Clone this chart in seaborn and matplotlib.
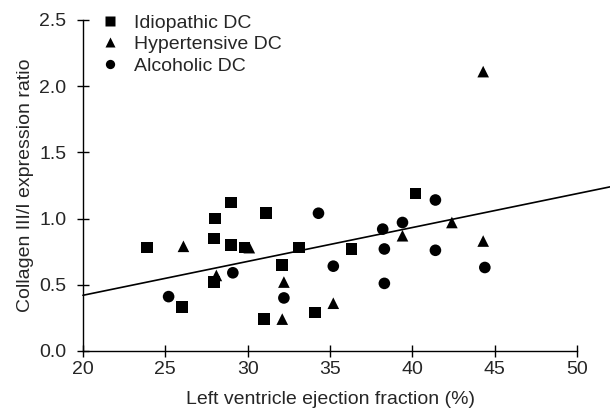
import matplotlib
matplotlib.use("Agg")
import matplotlib.pyplot as plt
import numpy as np
import pandas as pd
import seaborn as sns

# Values
idio_ef = [23.9, 26.0, 28.0, 27.95, 27.95, 29.0, 29.0, 29.8, 31.1, 31.0, 32.1, 33.1, 34.1, 36.3, 40.2]
idio_ratio = [0.78, 0.33, 1.00, 0.85, 0.52, 1.12, 0.80, 0.78, 1.04, 0.24, 0.65, 0.78, 0.29, 0.77, 1.19]

hyper_ef = [26.1, 28.1, 30.1, 32.2, 32.1, 35.2, 39.4, 42.4, 44.3, 44.3]
hyper_ratio = [0.79, 0.57, 0.78, 0.52, 0.24, 0.36, 0.87, 0.97, 2.11, 0.83]

alco_ef = [25.2, 29.1, 32.2, 34.3, 35.2, 38.2, 38.3, 38.3, 39.4, 41.4, 41.4, 44.4]
alco_ratio = [0.41, 0.59, 0.40, 1.04, 0.64, 0.92, 0.77, 0.51, 0.97, 1.14, 0.76, 0.63]

groups = ["Idiopathic DC", "Hypertensive DC", "Alcoholic DC"]

# trend line as printed in the figure (slope / intercept)
fit_slope = 0.0256
fit_intercept = -0.092
fit_x = np.array([20, 52])

df = pd.concat([
    pd.DataFrame({"ef": idio_ef, "ratio": idio_ratio, "group": groups[0]}),
    pd.DataFrame({"ef": hyper_ef, "ratio": hyper_ratio, "group": groups[1]}),
    pd.DataFrame({"ef": alco_ef, "ratio": alco_ratio, "group": groups[2]}),
], ignore_index=True)

sns.set_style("ticks")
plt.rcParams["font.family"] = ["Liberation Sans", "DejaVu Sans"]

fig = plt.figure(figsize=(6.1, 4.08), dpi=100)
ax = fig.add_axes([0.136, 0.14, 0.81, 0.811])

sns.lineplot(x=fit_x, y=fit_intercept + fit_slope * fit_x, ax=ax,
             color="black", lw=1.2, clip_on=False)

sns.scatterplot(data=df, x="ef", y="ratio", hue="group", style="group",
                hue_order=groups, style_order=groups,
                markers={"Idiopathic DC": "s", "Hypertensive DC": "^", "Alcoholic DC": "o"},
                palette=["black", "black", "black"], s=70, edgecolor="none",
                ax=ax)

ax.set_xlim(20, 50)
ax.set_ylim(0, 2.5)
ax.set_xticks(np.arange(20, 51, 5))
ax.set_yticks(np.arange(0, 2.51, 0.5))
ax.set_yticklabels([f"{v:.1f}" for v in np.arange(0, 2.51, 0.5)])
ax.tick_params(direction="inout", length=8, width=1, labelsize=14, color="black")
ax.tick_params(axis="y", pad=8)
ax.tick_params(axis="x", pad=3)
ax.set_xlabel("Left ventricle ejection fraction (%)", fontsize=14, labelpad=10)
ax.set_ylabel("Collagen III/I expression ratio", fontsize=14, labelpad=4)
for sp in ["left", "bottom"]:
    ax.spines[sp].set_linewidth(1)
    ax.spines[sp].set_color("black")
sns.despine(ax=ax)

leg = ax.legend(loc="upper left", bbox_to_anchor=(0.036, 1.018), frameon=False,
                fontsize=14, handlelength=1.0, handletextpad=0.7, labelspacing=0.2,
                markerscale=0.8, borderaxespad=0, borderpad=0)

fig.savefig("out.png", dpi=100)
